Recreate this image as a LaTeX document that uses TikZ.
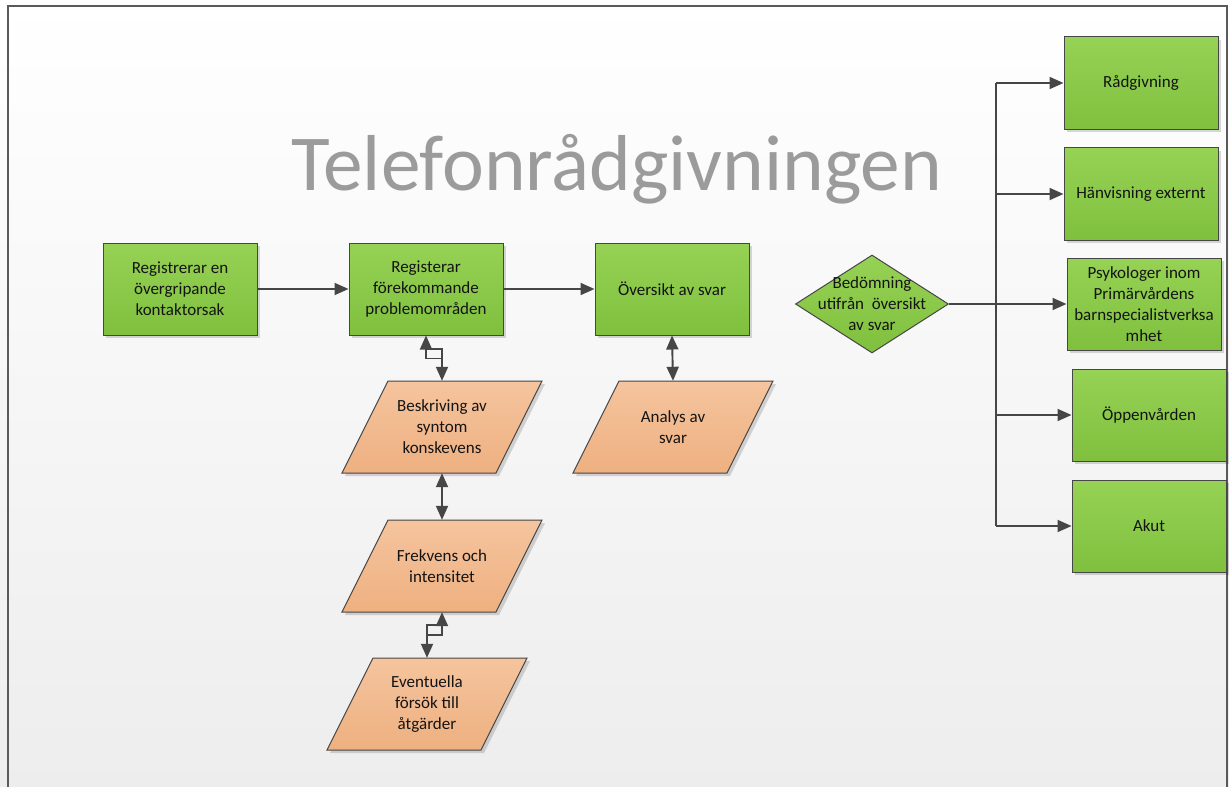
\documentclass[tikz,border=0pt]{standalone}
\usepackage{fontspec}
\setmainfont{Carlito}
\usetikzlibrary{shapes.geometric,shadows,arrows.meta,calc}

\definecolor{lineC}{RGB}{70,70,70}
\definecolor{greenT}{RGB}{150,210,85}
\definecolor{greenB}{RGB}{128,192,62}
\definecolor{orangeT}{RGB}{245,196,158}
\definecolor{orangeB}{RGB}{238,176,128}
\definecolor{titleC}{RGB}{155,155,155}
\definecolor{frameC}{RGB}{90,90,90}

\tikzset{
  base/.style={font=\fontsize{17bp}{21bp}\selectfont, align=center, text=black!92},
  procbox/.style={base, rectangle, draw=lineC, line width=1bp,
    top color=greenT, bottom color=greenB,
    minimum width=154bp, minimum height=92bp, inner sep=2bp,
    drop shadow={shadow xshift=3bp, shadow yshift=-3bp, fill=black, opacity=0.15}},
  conn/.style={draw=lineC, line width=1.9bp},
  tip/.style={-{Triangle[length=14bp,width=12bp]}},
  tipstart/.style={{Triangle[length=14bp,width=12bp]}-},
  both/.style={{Triangle[length=14bp,width=12bp]}-{Triangle[length=14bp,width=12bp]}},
}

% input/output parallelogram: name, centre, text
\newcommand\ioshape[3]{%
  \fill[black, opacity=0.15, shift={(#2)}, shift={(3,3)}]
    (-54,-46) -- (100,-46) -- (54,46) -- (-100,46) -- cycle;
  \shadedraw[draw=lineC, line width=1bp, top color=orangeT, bottom color=orangeB, shift={(#2)}]
    (-54,-46) -- (100,-46) -- (54,46) -- (-100,46) -- cycle;
  \node[base, minimum height=92bp, minimum width=100bp, inner sep=0] (#1) at (#2) {#3};
}

\begin{document}
\begin{tikzpicture}[x=1bp, y=-1bp]
  \useasboundingbox (0,0) rectangle (1229,787);
  % page background and frame
  \shade[top color=white, bottom color=black!7] (0,0) rectangle (1229,787);
  \draw[frameC, line width=1.2bp] (8,787) -- (8,6) -- (1227,6) -- (1227,787);

  % title
  \node[font=\fontsize{79.3bp}{82bp}\selectfont, text=titleC, anchor=base, inner sep=0] (title) at (617,190) {Telefonrådgivningen};

  % main row
  \node[procbox] (b1) at (180,289) {Registrerar en\\övergripande\\kontaktorsak};
  \node[procbox] (b2) at (426,289) {Registerar\\förekommande\\problemområden};
  \node[procbox] (b3) at (672,289) {Översikt av svar};

  % data column
  \ioshape{besk}{442,427}{Beskriving av\\syntom\\konskevens}
  \ioshape{frek}{442,566}{Frekvens och\\intensitet}
  \ioshape{even}{427,704}{Eventuella\\försök till\\åtgärder}
  \ioshape{anal}{673,427}{Analys av\\svar}

  % decision
  \node[diamond, draw=lineC, line width=1bp, top color=greenT, bottom color=greenB,
        minimum width=153bp, minimum height=98bp, inner sep=0] (dia) at (872,304) {};
  \node[base] (diatext) at (dia.center) {Bedömning\\utifrån\ \ översikt\\av svar};

  % outcomes
  \node[procbox] (r1) at (1141,83) {Rådgivning};
  \node[procbox] (r2) at (1141,194) {Hänvisning externt};
  \node[procbox] (r3) at (1144,304) {Psykologer inom\\Primärvårdens\\barnspecialistverksa\\mhet};
  \node[procbox] (r4) at (1149,415) {Öppenvården};
  \node[procbox] (r5) at (1149,526) {Akut};

  % connectors
  \draw[conn,tip] (b1.east) -- (b2.west);
  \draw[conn,tip] (b2.east) -- (b3.west);

  \draw[conn,tipstart] (b2.south) -- ++(0,23) -- ++(16,0);
  \draw[conn,tipstart] (besk.north) -- ++(0,-32) -- ++(-16,0);
  \draw[conn,both] (besk.south) -- (frek.north);
  \draw[conn,tipstart] (frek.south) -- ++(0,23) -- ++(-16,0);
  \draw[conn,tipstart] (even.north) -- ++(0,-33) -- ++(16,0);
  \draw[conn,both] (b3.south) -- (anal.north);

  \coordinate (bt) at (996,83);
  \coordinate (bb) at (996,526);
  \draw[conn] (bt) -- (bb);
  \draw[conn,tip] (bt) -- (r1.west);
  \draw[conn,tip] (r2.west -| bt) -- (r2.west);
  \draw[conn,tip] (dia.east) -- (r3.west);
  \draw[conn,tip] (r4.west -| bt) -- (r4.west);
  \draw[conn,tip] (bb) -- (r5.west);
\end{tikzpicture}
\end{document}
